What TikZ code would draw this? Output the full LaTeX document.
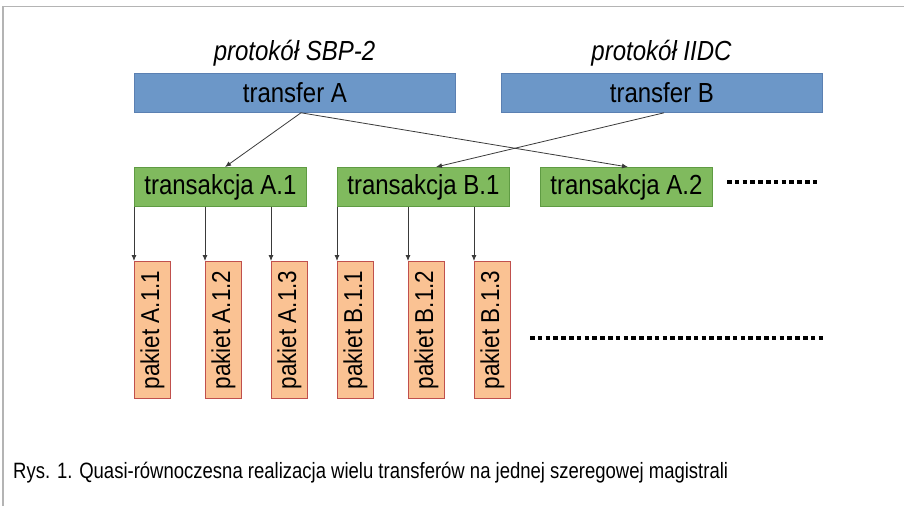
\documentclass[tikz,border=0pt]{standalone}
\usepackage{fontspec}
\setmainfont{Liberation Sans}
\usetikzlibrary{arrows.meta}
\definecolor{bfill}{HTML}{6C97C8}
\definecolor{bdraw}{HTML}{5B80B2}
\definecolor{gfill}{HTML}{80BA5E}
\definecolor{gdraw}{HTML}{5F9B43}
\definecolor{pfill}{HTML}{FAC293}
\definecolor{pdraw}{HTML}{C0504D}
\definecolor{frm}{HTML}{B4B4B4}
\definecolor{arr}{HTML}{3A3A3A}
\newcommand{\tallt}[1]{\scalebox{1}[1.15]{#1}}
\begin{document}
\begin{tikzpicture}[x=1pt,y=-1pt,
  boxbase/.style={line width=0.8pt, inner sep=0pt, anchor=north west, font=\fontsize{24}{28}\selectfont},
  tbox/.style={boxbase, fill=bfill, draw=bdraw, minimum width=321pt, minimum height=39pt},
  gbox/.style={boxbase, fill=gfill, draw=gdraw, minimum width=172pt, minimum height=39pt},
  pbox/.style={boxbase, fill=pfill, draw=pdraw, minimum width=36pt, minimum height=137pt, font=\fontsize{22.5}{26}\selectfont},
  proto/.style={font=\fontsize{24}{28}\selectfont\itshape, inner sep=0pt, anchor=base},
  conn/.style={draw=arr, line width=0.8pt, -{Latex[length=6pt,width=5pt]}},
  dotline/.style={line width=4.5pt, dash pattern=on 4.5pt off 3.3pt},
]
\useasboundingbox (0,0) rectangle (904,506);
\draw[frm, line width=1.5pt] (3,506) -- (3,6.5) -- (904,6.5);

\node[proto] (lA) at (294.5,60) {\tallt{protokół SBP-2}};
\node[proto] (lB) at (661.5,60) {\tallt{protokół IIDC}};

\node[tbox] (tA) at (134,73) {\tallt{transfer A}};
\node[tbox] (tB) at (501,73) {\tallt{transfer B}};

\node[gbox] (a1) at (134,167) {\tallt{transakcja A.1}};
\node[gbox] (b1) at (337,167) {\tallt{transakcja B.1}};
\node[gbox] (a2) at (540,167) {\tallt{transakcja A.2}};

\node[pbox] (p1) at (134,261) {\rotatebox{90}{\tallt{pakiet A.1.1}}};
\node[pbox] (p2) at (205,261) {\rotatebox{90}{\tallt{pakiet A.1.2}}};
\node[pbox] (p3) at (271,261) {\rotatebox{90}{\tallt{pakiet A.1.3}}};
\node[pbox] (p4) at (337,261) {\rotatebox{90}{\tallt{pakiet B.1.1}}};
\node[pbox] (p5) at (408,261) {\rotatebox{90}{\tallt{pakiet B.1.2}}};
\node[pbox] (p6) at (474,261) {\rotatebox{90}{\tallt{pakiet B.1.3}}};

\draw[conn] ([xshift=167pt]tA.south west) -- ([xshift=91pt]a1.north west);
\draw[conn] ([xshift=167pt]tA.south west) -- ([xshift=88pt]a2.north west);
\draw[conn] ([xshift=163pt]tB.south west) -- ([xshift=99pt]b1.north west);

\foreach \p in {p1,p2,p3} \draw[conn] (\p.north west |- a1.south) -- (\p.north west);
\foreach \p in {p4,p5,p6} \draw[conn] (\p.north west |- b1.south) -- (\p.north west);

\draw[dotline] (727,182) -- (820,182);
\draw[dotline] (530,338) -- (826,338);

\node[anchor=base west, inner sep=0pt, font=\fontsize{18.5}{22}\selectfont] (cap) at (13,478)
  {\scalebox{1}[1.2]{Rys. 1. Quasi-równoczesna realizacja wielu transferów na jednej szeregowej magistrali}};
\end{tikzpicture}
\end{document}
